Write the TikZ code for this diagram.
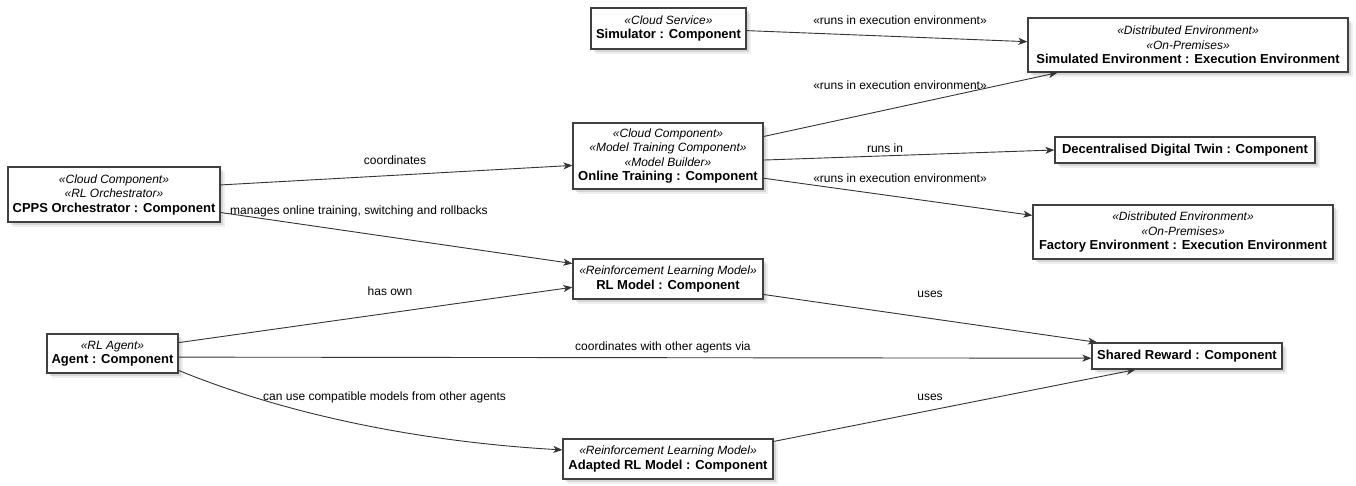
\documentclass[tikz,border=0pt]{standalone}
\usepackage{fontspec}
\setmainfont{Liberation Sans}
\usetikzlibrary{arrows.meta,shadows,calc}
\definecolor{boxline}{RGB}{64,64,64}
\definecolor{edgecol}{RGB}{52,52,52}
\newcommand\ster[1]{{\itshape «#1»}}
\newcommand\cnm[1]{{\bfseries\fontsize{13}{14.5}\selectfont #1}}
\begin{document}
\begin{tikzpicture}[x=1pt,y=-1pt,
  comp/.style={draw=boxline, line width=1.3pt, fill=white,
    drop shadow={shadow xshift=4.5pt, shadow yshift=-4.5pt, opacity=0.12},
    drop shadow={shadow xshift=3pt, shadow yshift=-3pt, opacity=0.22},
    align=center, inner sep=0pt, font=\fontsize{12}{14.5}\selectfont},
  lbl/.style={font=\fontsize{12}{14}\selectfont, inner sep=0pt, text=black},
  conn/.style={draw=edgecol, line width=0.9pt, -{Stealth[length=9pt,width=7pt,inset=2.5pt]}}]
\useasboundingbox (0,0) rectangle (1356,485);
\fill[white] (0,0) rectangle (1356,485);

% components
\node[comp, minimum width=155pt, minimum height=41pt] (sim) at (668.5,28.5)
  {\ster{Cloud Service}\\\cnm{Simulator : Component}};
\node[comp, minimum width=320pt, minimum height=54pt] (simenv) at (1188,45)
  {\ster{Distributed Environment}\\\ster{On-Premises}\\\cnm{Simulated Environment : Execution Environment}};
\node[comp, minimum width=190pt, minimum height=66pt] (online) at (668,156)
  {\ster{Cloud Component}\\\ster{Model Training Component}\\\ster{Model Builder}\\\cnm{Online Training : Component}};
\node[comp, minimum width=260pt, minimum height=26pt] (twin) at (1185,150)
  {\cnm{Decentralised Digital Twin : Component}};
\node[comp, minimum width=300pt, minimum height=54pt] (factory) at (1183,232)
  {\ster{Distributed Environment}\\\ster{On-Premises}\\\cnm{Factory Environment : Execution Environment}};
\node[comp, minimum width=212pt, minimum height=55pt] (cpps) at (114,194.5)
  {\ster{Cloud Component}\\\ster{RL Orchestrator}\\\cnm{CPPS Orchestrator : Component}};
\node[comp, minimum width=190pt, minimum height=40pt] (rl) at (668,279)
  {\ster{Reinforcement Learning Model}\\\cnm{RL Model : Component}};
\node[comp, minimum width=131pt, minimum height=39pt] (agent) at (112.5,353.5)
  {\ster{RL Agent}\\\cnm{Agent : Component}};
\node[comp, minimum width=190pt, minimum height=26pt] (shared) at (1187,356)
  {\cnm{Shared Reward : Component}};
\node[comp, minimum width=210pt, minimum height=40pt] (adapted) at (668,459)
  {\ster{Reinforcement Learning Model}\\\cnm{Adapted RL Model : Component}};

% connectors
\draw[conn] ($(sim.north east)!0.55!(sim.south east)$) -- ($(simenv.north west)!0.44!(simenv.south west)$);
\draw[conn] ($(online.north east)!0.21!(online.south east)$) -- ($(simenv.south west)!0.094!(simenv.south east)$);
\draw[conn] ($(online.north east)!0.56!(online.south east)$) -- (twin.west);
\draw[conn] ($(online.north east)!0.83!(online.south east)$) -- ($(factory.north west)!0.2!(factory.south west)$);
\draw[conn] ($(cpps.north east)!0.33!(cpps.south east)$) -- ($(online.north west)!0.64!(online.south west)$);
\draw[conn] ($(cpps.north east)!0.82!(cpps.south east)$) -- ($(rl.north west)!0.125!(rl.south west)$);
\draw[conn] ($(agent.north east)!0.23!(agent.south east)$) -- ($(rl.north west)!0.7!(rl.south west)$);
\draw[conn] ($(agent.north east)!0.59!(agent.south east)$) -- ($(shared.north west)!0.58!(shared.south west)$);
\draw[conn] ($(agent.north east)!0.92!(agent.south east)$) .. controls ($(agent.north east)!0.92!(agent.south east)+(110,45)$) and ($(adapted.north west)!0.28!(adapted.south west)+(-140,-8)$) .. ($(adapted.north west)!0.28!(adapted.south west)$);
\draw[conn] ($(rl.north east)!0.875!(rl.south east)$) -- ($(shared.north west)!0.03!(shared.north east)$);
\draw[conn] ($(adapted.north east)!0.075!(adapted.south east)$) -- ($(shared.south west)!0.23!(shared.south east)$);

% labels
\node[lbl] (l1) at (900,20) {«runs in execution environment»};
\node[lbl] (l2) at (900,85) {«runs in execution environment»};
\node[lbl] (l3) at (885,148) {runs in};
\node[lbl] (l4) at (900,178) {«runs in execution environment»};
\node[lbl] (l5) at (395,160) {coordinates};
\node[lbl, anchor=west] (l6) at (230,211) {manages online training, switching and rollbacks};
\node[lbl] (l7) at (390,291) {has own};
\node[lbl] (l8) at (930,294) {uses};
\node[lbl, anchor=west] (l9) at (575,347) {coordinates with other agents via};
\node[lbl, anchor=west] (l10) at (263,397) {can use compatible models from other agents};
\node[lbl] (l11) at (930,397) {uses};
\end{tikzpicture}
\end{document}
